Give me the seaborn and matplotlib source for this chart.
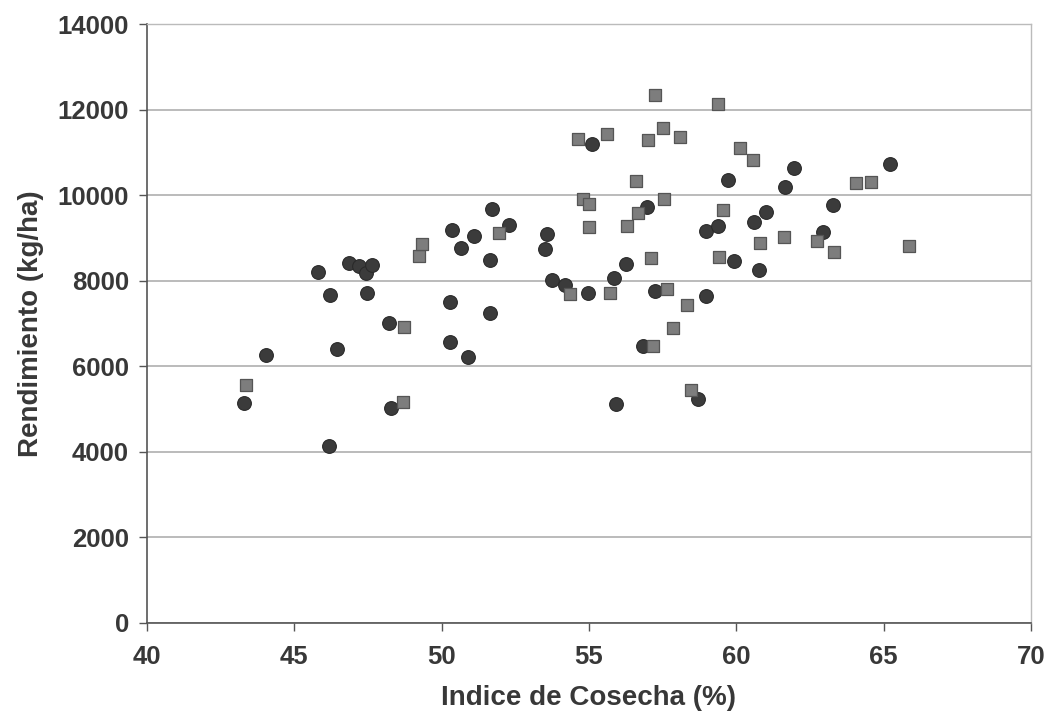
import matplotlib
matplotlib.use("Agg")
import matplotlib.pyplot as plt
import seaborn as sns
import pandas as pd

# Series 1: circles
circ_x = [43.3, 44.05, 45.8, 46.2, 46.17, 46.45, 46.87, 47.18, 47.44, 47.63, 47.45,
          48.2, 48.27, 50.35, 50.64, 51.11, 51.71, 52.28, 51.63, 50.27, 51.63, 50.3,
          50.88, 53.58, 53.52, 53.75, 54.17, 54.95, 55.09, 55.84, 56.27, 56.96, 57.23,
          56.82, 55.92, 58.71, 58.96, 58.96, 59.39, 59.72, 59.92, 60.6, 61.0, 60.76,
          61.66, 61.96, 62.93, 63.28, 65.22]
circ_y = [5140, 6256, 8210, 7660, 4140, 6395, 8420, 8356, 8186, 8365, 7705,
          7023, 5030, 9193, 8767, 9039, 9674, 9310, 8496, 7512, 7240, 6558,
          6209, 9093, 8752, 8016, 7900, 7712, 11209, 8070, 8400, 9721, 7767,
          6481, 5116, 5240, 7640, 9170, 9286, 10356, 8458, 9388, 9620, 8263,
          10202, 10644, 9132, 9770, 10728]

# Series 2: squares
sq_x = [43.36, 48.69, 48.71, 49.22, 49.33, 51.95, 54.37, 54.62, 54.80, 54.99, 55.0,
        55.62, 55.7, 56.3, 56.61, 56.66, 56.99, 57.11, 57.16, 57.23, 57.52, 57.56,
        57.64, 57.86, 58.08, 58.34, 58.45, 59.37, 59.41, 59.55, 60.13, 60.56, 60.81,
        61.62, 62.73, 63.3, 64.06, 64.57, 65.87]
sq_y = [5558, 5163, 6930, 8589, 8850, 9116, 7690, 11310, 9925, 9795, 9260,
        11434, 7705, 9272, 10333, 9598, 11287, 8527, 6473, 12349, 11581, 9907,
        7814, 6900, 11364, 7426, 5449, 12150, 8566, 9658, 11116, 10822, 8884,
        9016, 8938, 8674, 10279, 10302, 8821]

x_ticks = [40, 45, 50, 55, 60, 65, 70]
y_ticks = [0, 2000, 4000, 6000, 8000, 10000, 12000, 14000]

sns.set_theme(style="white")
plt.rcParams['font.family'] = ['Liberation Sans', 'DejaVu Sans']

fig = plt.figure(figsize=(10.47, 7.27), dpi=100)
ax = fig.add_axes([0.1404, 0.1437, 0.9847 - 0.1404, 0.9663 - 0.1437])

df_c = pd.DataFrame({"x": circ_x, "y": circ_y})
df_s = pd.DataFrame({"x": sq_x, "y": sq_y})

sns.scatterplot(data=df_c, x="x", y="y", ax=ax, marker="o", s=98,
                color="#3b3b3b", edgecolor="#2a2a2a", linewidth=0.8, zorder=3)
sns.scatterplot(data=df_s, x="x", y="y", ax=ax, marker="s", s=84,
                color="#7d7d7d", edgecolor="#555555", linewidth=0.9, zorder=3)

ax.set_xlim(40, 70)
ax.set_ylim(0, 14000)
ax.set_xticks(x_ticks)
ax.set_yticks(y_ticks)
ax.yaxis.grid(True, color="#a8a8a8", linewidth=1.1, zorder=0)
ax.xaxis.grid(False)
ax.set_axisbelow(True)

for side in ["left", "bottom"]:
    ax.spines[side].set_color("#555555")
    ax.spines[side].set_linewidth(1.2)
for side in ["top", "right"]:
    ax.spines[side].set_color("#bbbbbb")
    ax.spines[side].set_linewidth(1.0)

ax.tick_params(axis="both", which="major", direction="out", length=6,
               width=1.0, color="#555555", labelsize=18.5,
               labelcolor="#383838")
ax.tick_params(axis="y", pad=7, left=True)
ax.tick_params(axis="x", pad=10, bottom=True)
for lbl in ax.get_xticklabels() + ax.get_yticklabels():
    lbl.set_fontweight("bold")

ax.set_xlabel("Indice de Cosecha (%)", fontsize=20, fontweight="bold",
              color="#383838", labelpad=12)
ax.set_ylabel("Rendimiento (kg/ha)", fontsize=20, fontweight="bold",
              color="#383838", labelpad=10)

fig.savefig("out.png", dpi=100)
